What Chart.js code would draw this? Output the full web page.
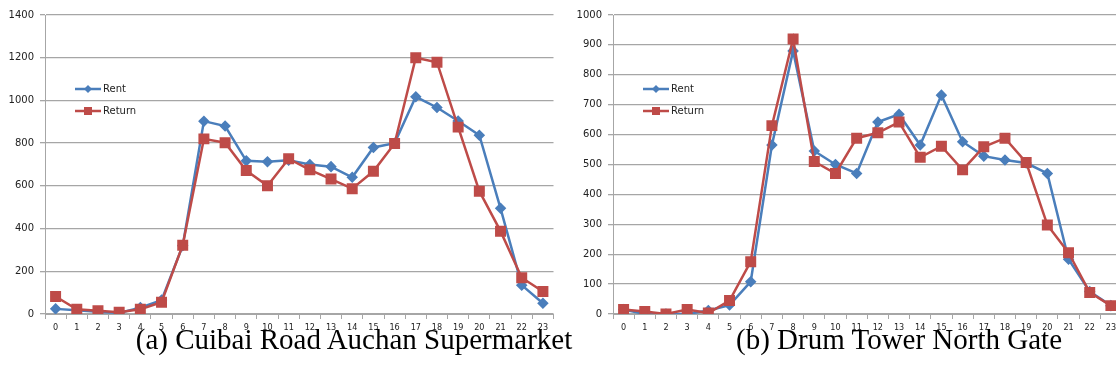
<!DOCTYPE html>
<html>
<head>
<meta charset="utf-8">
<script src="https://cdn.jsdelivr.net/npm/chart.js@4/dist/chart.umd.min.js"></script>
<style>
  html, body { margin: 0; padding: 0; background: #fff; overflow: hidden; }
  body { width: 1116px; height: 378px; position: relative; }
  .box { position: absolute; top: 0; height: 340px; }
  .caption { position: absolute; top: 323px; font-family: "Liberation Serif", "Times New Roman", serif; font-size: 29px; color: #000; white-space: nowrap; transform: translateX(-50%); }
</style>
</head>
<body>
<div class="box" style="left:0; width:562px;"><canvas id="chartA"></canvas></div>
<div class="box" style="left:570px; width:560px;"><canvas id="chartB"></canvas></div>
<div class="caption" style="left:354px;">(a) Cuibai Road Auchan Supermarket</div>
<div class="caption" style="left:899px;">(b) Drum Tower North Gate</div>
<script>
const hours = ["0","1","2","3","4","5","6","7","8","9","10","11","12","13","14","15","16","17","18","19","20","21","22","23"];

const rentA   = [24, 18, 10, 5, 30, 65, 320, 903, 880, 717, 713, 720, 700, 690, 640, 780, 800, 1017, 967, 904, 837, 495, 135, 50];
const returnA = [82, 22, 15, 8, 22, 55, 322, 820, 802, 672, 600, 727, 675, 632, 587, 668, 798, 1200, 1179, 875, 575, 388, 170, 105];

const rentB   = [15, 0, 0, 0, 12, 30, 108, 565, 880, 545, 500, 470, 642, 668, 565, 732, 576, 528, 515, 505, 470, 183, 75, 28];
const returnB = [15, 8, 0, 15, 3, 45, 175, 630, 920, 510, 470, 588, 606, 642, 524, 561, 482, 559, 588, 507, 298, 205, 72, 28];

const blue = "#4A7EBB";
const red = "#BE4B48";
const gridColor = "#A6A6A6";
const tickColor = "#222222";

// legend drawn inside the plot area, like the Excel original
const innerLegend = {
  id: "innerLegend",
  afterDraw(chart) {
    const ctx = chart.ctx;
    const x0 = chart.chartArea.left + 30;
    const rows = [
      { label: "Rent", color: blue, style: "diamond", y: 89 },
      { label: "Return", color: red, style: "square", y: 111 }
    ];
    ctx.save();
    rows.forEach(r => {
      ctx.strokeStyle = r.color;
      ctx.lineWidth = 2.5;
      ctx.beginPath();
      ctx.moveTo(x0, r.y);
      ctx.lineTo(x0 + 26, r.y);
      ctx.stroke();
      ctx.fillStyle = r.color;
      const cx = x0 + 13;
      ctx.beginPath();
      if (r.style === "diamond") {
        ctx.moveTo(cx, r.y - 4);
        ctx.lineTo(cx + 4, r.y);
        ctx.lineTo(cx, r.y + 4);
        ctx.lineTo(cx - 4, r.y);
        ctx.closePath();
      } else {
        ctx.rect(cx - 4, r.y - 4, 8, 8);
      }
      ctx.fill();
      ctx.fillStyle = tickColor;
      ctx.font = "10px 'DejaVu Sans', sans-serif";
      ctx.textBaseline = "middle";
      ctx.fillText(r.label, x0 + 28, r.y);
    });
    ctx.restore();
  }
};

function makeChart(id, rent, ret, yMax, yStep, yWidth) {
  return new Chart(document.getElementById(id), {
    type: "line",
    data: {
      labels: hours,
      datasets: [
        {
          label: "Rent",
          data: rent,
          borderColor: blue,
          backgroundColor: blue,
          borderWidth: 2.5,
          pointStyle: "rectRot",
          pointRadius: 4,
          pointHoverRadius: 4,
          tension: 0,
          order: 1
        },
        {
          label: "Return",
          data: ret,
          borderColor: red,
          backgroundColor: red,
          borderWidth: 2.5,
          pointStyle: "rect",
          pointRadius: 6,
          pointHoverRadius: 6,
          tension: 0,
          order: 0
        }
      ]
    },
    options: {
      responsive: true,
      maintainAspectRatio: false,
      animation: false,
      layout: { padding: { top: 15, right: 7, left: 0, bottom: 0 } },
      plugins: { legend: { display: false }, tooltip: { enabled: false } },
      scales: {
        x: {
          offset: true,
          grid: { offset: true, drawOnChartArea: false, drawTicks: true, tickLength: 5, color: gridColor },
          border: { color: gridColor, width: 1 },
          ticks: { color: tickColor, font: { family: "'DejaVu Sans Condensed', 'Liberation Sans Narrow', sans-serif", size: 9 }, maxRotation: 0, autoSkip: false, padding: 3 },
          afterFit(scale) { scale.height = 26; }
        },
        y: {
          min: 0,
          max: yMax,
          ticks: { stepSize: yStep, color: tickColor, font: { family: "'DejaVu Sans', sans-serif", size: 10 }, padding: 6, callback: v => String(v) },
          grid: { color: gridColor, lineWidth: 1.3, drawTicks: true, tickLength: 5 },
          border: { color: gridColor, width: 1 },
          afterFit(scale) { scale.width = yWidth; }
        }
      }
    },
    plugins: [innerLegend]
  });
}

makeChart("chartA", rentA, returnA, 1400, 200, 45);
makeChart("chartB", rentB, returnB, 1000, 100, 43);
</script>
</body>
</html>
